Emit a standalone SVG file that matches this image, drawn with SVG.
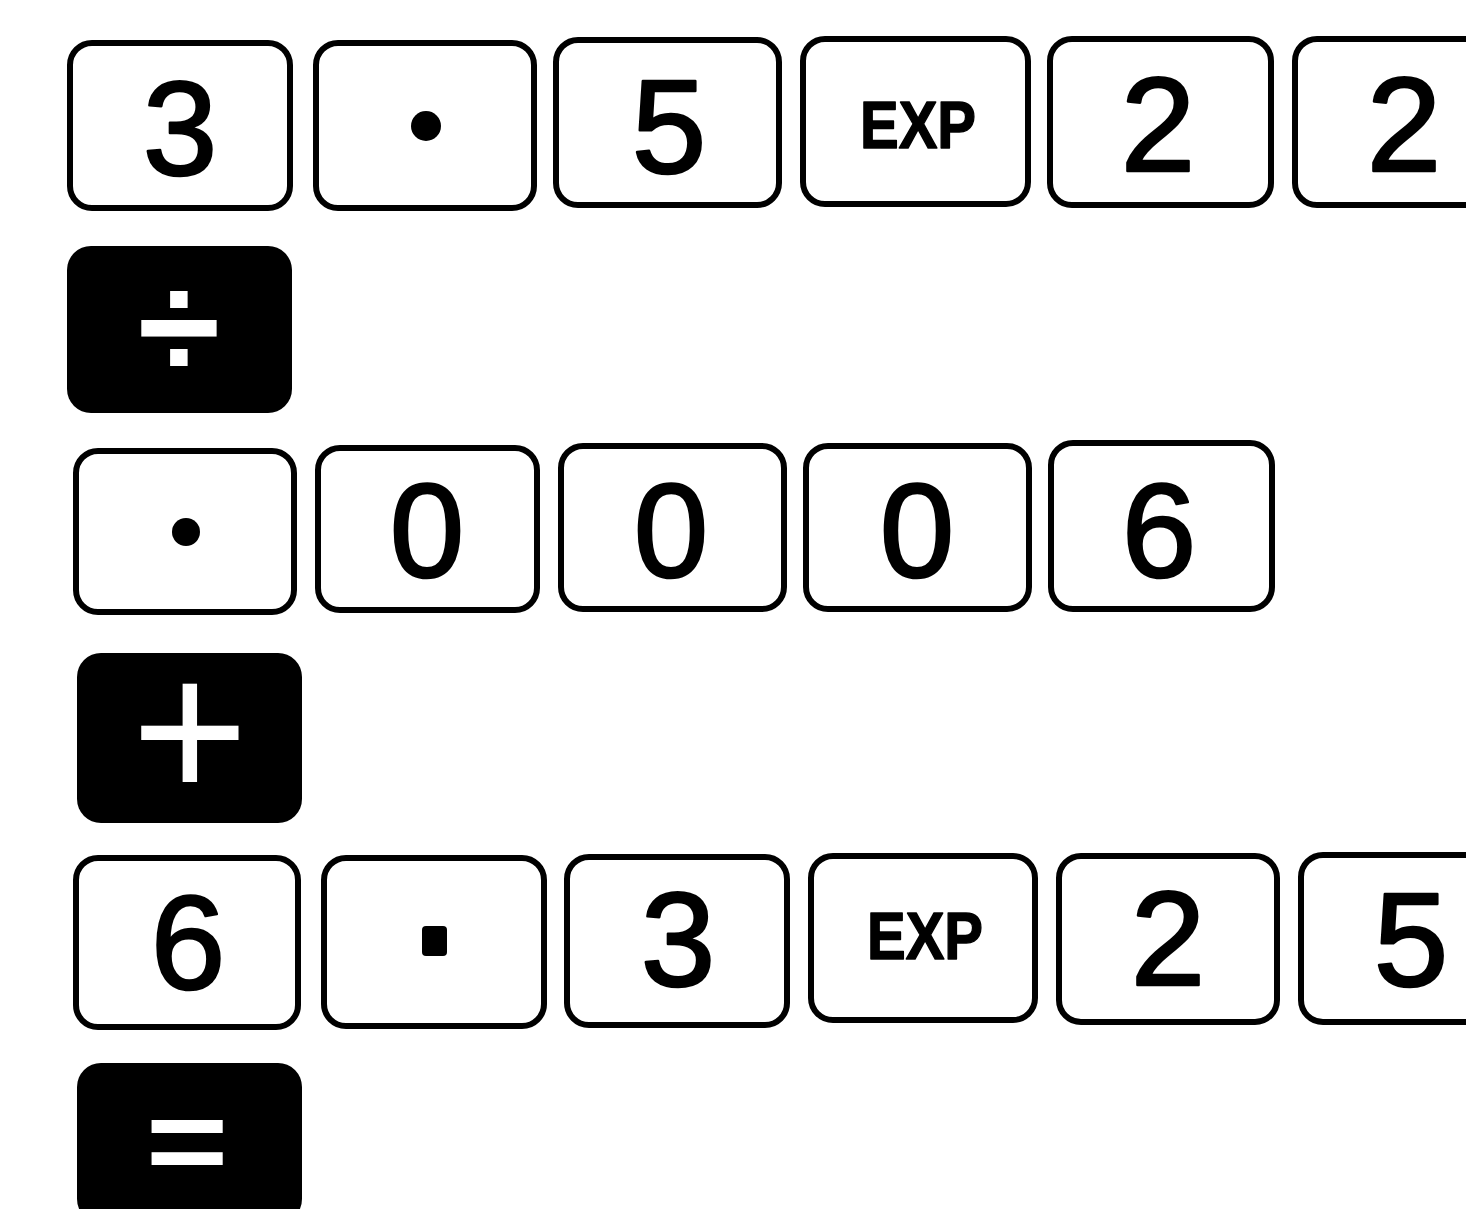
<svg xmlns="http://www.w3.org/2000/svg" width="1466" height="1209" viewBox="0 0 1466 1209">
<style>
.key{fill:#fff;stroke:#000;stroke-width:6}
.dk{fill:#000}
.dig{font-family:"Liberation Sans",Arial,sans-serif;font-size:134px;text-anchor:middle;fill:#000;stroke:#000;stroke-width:2.6;stroke-linejoin:round}
.exp{font-family:"Liberation Sans",Arial,sans-serif;font-weight:bold;font-size:67px;text-anchor:middle;fill:#000;stroke:#000;stroke-width:1.5;stroke-linejoin:round}
.op{font-family:"Liberation Sans",Arial,sans-serif;text-anchor:middle;fill:#fff}
</style>
<rect width="1466" height="1209" fill="#fff"/>
<g id="connectors"/>
<!-- Row 1 -->
<g id="r1k1"><rect class="key" x="70" y="43" width="220" height="165" rx="22"/><text class="dig" x="180" y="175">3</text></g>
<g id="r1k2"><rect class="key" x="316" y="43" width="218" height="165" rx="22"/><circle cx="426" cy="126" r="15"/></g>
<g id="r1k3"><rect class="key" x="556" y="40" width="223" height="165" rx="22"/><text class="dig" x="669" y="173">5</text></g>
<g id="r1k4"><rect class="key" x="803" y="39" width="225" height="165" rx="22"/><text class="exp" x="918" y="148" textLength="116" lengthAdjust="spacingAndGlyphs">EXP</text></g>
<g id="r1k5"><rect class="key" x="1050" y="39" width="221" height="166" rx="22"/><text class="dig" x="1158" y="171">2</text></g>
<g id="r1k6"><rect class="key" x="1295" y="39" width="230" height="166" rx="22"/><text class="dig" x="1404" y="171">2</text></g>
<!-- Row 2 -->
<g id="divide"><rect class="dk" x="67" y="246" width="225" height="167" rx="24"/><text class="op" x="179" y="379" font-size="150" font-weight="bold">÷</text></g>
<!-- Row 3 -->
<g id="r3k1"><rect class="key" x="76" y="451" width="218" height="161" rx="22"/><circle cx="186" cy="532" r="14"/></g>
<g id="r3k2"><rect class="key" x="318" y="448" width="219" height="162" rx="22"/><text class="dig" x="427" y="577">0</text></g>
<g id="r3k3"><rect class="key" x="561" y="446" width="223" height="163" rx="22"/><text class="dig" x="671" y="577">0</text></g>
<g id="r3k4"><rect class="key" x="806" y="446" width="223" height="163" rx="22"/><text class="dig" x="917" y="577">0</text></g>
<g id="r3k5"><rect class="key" x="1051" y="443" width="221" height="166" rx="22"/><text class="dig" x="1159" y="577">6</text></g>
<!-- Row 4 -->
<g id="plus"><rect class="dk" x="77" y="653" width="225" height="170" rx="24"/><text class="op" x="190" y="800" font-size="200">+</text></g>
<!-- Row 5 -->
<g id="r5k1"><rect class="key" x="76" y="858" width="222" height="169" rx="22"/><text class="dig" x="188" y="989">6</text></g>
<g id="r5k2"><rect class="key" x="324" y="858" width="220" height="168" rx="22"/><rect x="422" y="926" width="25" height="30" rx="4"/></g>
<g id="r5k3"><rect class="key" x="567" y="857" width="220" height="168" rx="22"/><text class="dig" x="678" y="986">3</text></g>
<g id="r5k4"><rect class="key" x="811" y="856" width="224" height="164" rx="22"/><text class="exp" x="925" y="959" textLength="116" lengthAdjust="spacingAndGlyphs">EXP</text></g>
<g id="r5k5"><rect class="key" x="1059" y="856" width="218" height="166" rx="22"/><text class="dig" x="1168" y="985">2</text></g>
<g id="r5k6"><rect class="key" x="1301" y="855" width="230" height="167" rx="22"/><text class="dig" x="1411" y="986">5</text></g>
<!-- Row 6 -->
<g id="equals"><rect class="dk" x="77" y="1063" width="225" height="160" rx="24"/><text class="op" transform="translate(187,1182) scale(1.2,1)" x="0" y="0" font-size="118" font-weight="bold">=</text></g>
</svg>
